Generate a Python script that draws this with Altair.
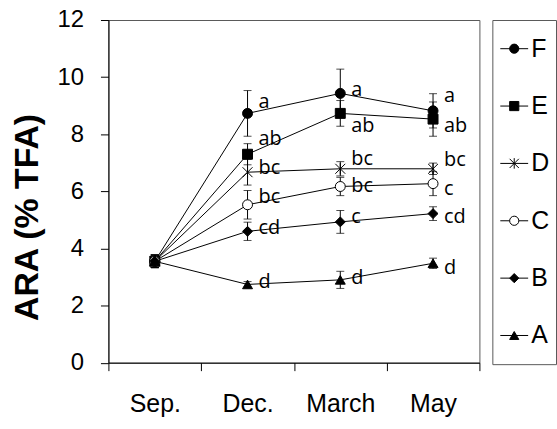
import altair as alt
import pandas as pd

months = ["Sep.", "Dec.", "March", "May"]
series = ["F", "E", "D", "C", "B", "A"]

values = {
    "F": [3.55, 8.73, 9.43, 8.82],
    "E": [3.55, 7.30, 8.73, 8.53],
    "D": [3.55, 6.67, 6.79, 6.79],
    "C": [3.55, 5.53, 6.17, 6.27],
    "B": [3.55, 4.60, 4.93, 5.22],
    "A": [3.55, 2.74, 2.90, 3.48],
}
errors = {
    "F": [0.22, 0.80, 0.85, 0.60],
    "E": [0.22, 0.37, 0.45, 0.60],
    "D": [0.22, 0.45, 0.25, 0.20],
    "C": [0.22, 0.50, 0.32, 0.42],
    "B": [0.22, 0.32, 0.40, 0.24],
    "A": [0.22, 0.10, 0.30, 0.18],
}
letters = {
    "F": ["", "a", "a", "a"],
    "E": ["", "ab", "ab", "ab"],
    "D": ["", "bc", "bc", "bc"],
    "C": ["", "bc", "bc", "c"],
    "B": ["", "cd", "c", "cd"],
    "A": ["", "d", "d", "d"],
}
# vertical pixel nudges of the significance letters (layout only, px, negative = up)
letter_nudge = {
    "F": [0, -11, -3, -15],
    "E": [0, -15, 13, 7],
    "D": [0, -4, -10, -9],
    "C": [0, -8, 0, 5],
    "B": [0, -3, -5, 3],
    "A": [0, -2, -2, 5],
}

PLOT_W, PLOT_H = 373, 344.5

rows = []
for s in series:
    for i, m in enumerate(months):
        v = values[s][i]
        e = errors[s][i]
        rows.append(dict(series=s, month=m, value=v, lo=v - e, hi=v + e,
                         letter=letters[s][i], off=letter_nudge[s][i]))
df = pd.DataFrame(rows)
lab = df[df["letter"] != ""]

star = "M-1,-1L1,1M-1,1L1,-1M0,-1.15L0,1.15"
shape_scale = alt.Scale(domain=series,
                        range=["circle", "square", star, "circle", "diamond", "triangle-up"])
fill_scale = alt.Scale(domain=series,
                       range=["black", "black", "transparent", "white", "black", "black"])

xscale = alt.Scale(type="band", paddingInner=0, paddingOuter=0, domain=months)
X = alt.X("month:N", sort=months, scale=xscale, bandPosition=0.5,
          axis=alt.Axis(title=None, labelAngle=0, tickBand="extent", tickSize=8,
                        labelFont="Liberation Sans", labelFontSize=25, labelColor="black",
                        labelPadding=21, domainColor="black", tickColor="black"))
Xp = alt.X("month:N", sort=months, scale=xscale, bandPosition=0.5)
yaxis = alt.Axis(values=[0, 2, 4, 6, 8, 10, 12], grid=False, tickSize=8,
                 labelFont="Liberation Sans", labelFontSize=24, labelColor="black",
                 labelPadding=17, domainColor="black", tickColor="black",
                 title="ARA (% TFA)", titleFont="Liberation Sans", titleFontSize=34,
                 titleFontWeight="bold", titleColor="black", titleAngle=270,
                 titleX=-81, titleY=198, titleAlign="center", titleBaseline="middle")
Y = alt.Y("value:Q", scale=alt.Scale(domain=[0, 12]), axis=yaxis)

base = alt.Chart(df)
lines = base.mark_line(color="black", strokeWidth=1).encode(x=X, y=Y, detail="series:N")
bars = base.mark_rule(color="black", strokeWidth=1).encode(x=Xp, y="lo:Q", y2="hi:Q")
cap_lo = base.mark_tick(color="black", size=8, thickness=1).encode(x=Xp, y="lo:Q")
cap_hi = base.mark_tick(color="black", size=8, thickness=1).encode(x=Xp, y="hi:Q")
pts = base.mark_point(filled=True, stroke="black", strokeWidth=1, size=100, opacity=1).encode(
    x=Xp, y="value:Q",
    shape=alt.Shape("series:N", scale=shape_scale, legend=None),
    fill=alt.Fill("series:N", scale=fill_scale, legend=None))
texts = alt.Chart(lab).transform_calculate(
    ly=f"datum.value - datum.off * 12 / {PLOT_H}"
).mark_text(align="left", baseline="middle", dx=11,
            font="Open Sans", fontSize=20, color="black").encode(
    x=Xp, y="ly:Q", text="letter:N")

main = alt.layer(lines, bars, cap_lo, cap_hi, pts, texts).properties(width=PLOT_W, height=PLOT_H)

leg_df = pd.DataFrame({"series": series})
ly = alt.Y("series:N", sort=series, axis=None, scale=alt.Scale(type="point", padding=0.5))
lbase = alt.Chart(leg_df)
lline = lbase.mark_rule(color="black", strokeWidth=1).encode(
    x=alt.value(8), x2=alt.value(36), y=ly)
lpts = lbase.mark_point(filled=True, stroke="black", strokeWidth=1, size=85, opacity=1).encode(
    x=alt.value(22), y=ly,
    shape=alt.Shape("series:N", scale=shape_scale, legend=None),
    fill=alt.Fill("series:N", scale=fill_scale, legend=None))
ltxt = lbase.mark_text(align="left", baseline="middle", font="Liberation Sans",
                       fontSize=25, color="black").encode(x=alt.value(39), y=ly, text="series:N")
legend = alt.layer(lline, lpts, ltxt).properties(width=64, height=346)

chart = alt.hconcat(main, legend, spacing=11).configure_view(
    stroke="#595959", strokeWidth=1).properties(
    padding={"left": 10, "top": 6, "right": 0, "bottom": 0}, background="white")

chart.save("out.html", embed_options={"renderer": "svg", "actions": False})
